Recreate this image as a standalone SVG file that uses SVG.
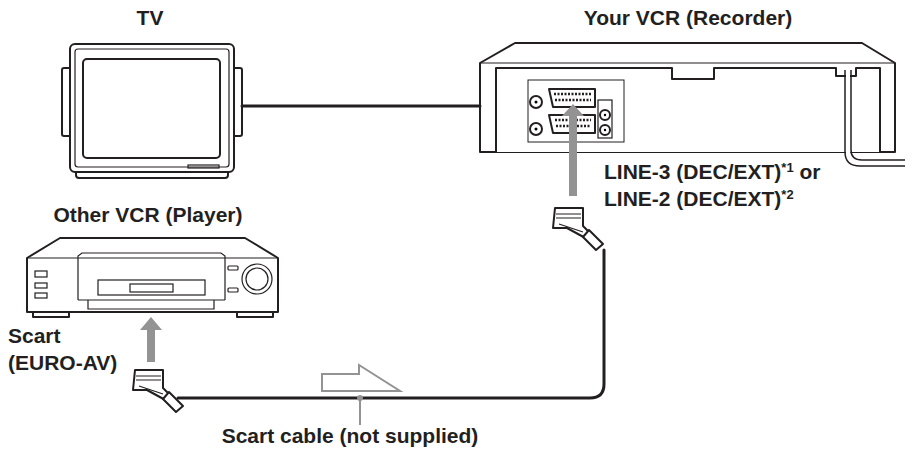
<svg xmlns="http://www.w3.org/2000/svg" width="915" height="460" viewBox="0 0 915 460">
<style>
.l{fill:#fff;stroke:#231f20;stroke-width:2;stroke-linejoin:round}
.t{fill:none;stroke:#231f20;stroke-width:1.2}
.c{fill:none;stroke:#231f20;stroke-width:3;stroke-linecap:round}
.g{fill:#939393}
text{font-family:"Liberation Sans",Arial,sans-serif;font-weight:bold;font-size:21px;fill:#231f20}
</style>
<rect width="915" height="460" fill="#fff"/>
<g id="tv">
<rect class="l" x="62" y="68" width="10" height="68" rx="2"/>
<rect class="l" x="232" y="68" width="10" height="68" rx="2"/>
<rect class="l" x="76" y="168" width="152" height="10" rx="3"/>
<rect class="l" x="70" y="44" width="164" height="128" rx="5"/>
<rect class="t" x="75" y="49" width="154" height="118" rx="3"/>
<rect class="l" x="83" y="59" width="137" height="99" rx="4" stroke-width="1.5"/>
<rect class="t" x="188" y="165" width="31" height="3"/>
</g>
<g id="recorder">
<path class="l" d="M480 152V63L515 43H862L895 63V152Z"/>
<path class="t" d="M480 63H895"/>
<path class="l" d="M496 152V68H672V79H714V68H836V76H856V68H880V152" stroke-width="1.5"/>
<rect x="528" y="80" width="96" height="62" fill="#fff" stroke="#231f20" stroke-width="1"/>
<path class="l" d="M549 89H595V107H553Z" stroke-width="1.5"/>
<path class="l" d="M549 115H595V133H553Z" stroke-width="1.5"/>
<path d="M554 94H591M555 100H591M555 120H591M556 126H591" stroke="#231f20" stroke-width="2.5" stroke-dasharray="2 1.5"/>
<circle class="l" cx="536" cy="102" r="6" stroke-width="1.5"/><circle cx="536" cy="102" r="1.5"/>
<circle class="l" cx="536" cy="129" r="6" stroke-width="1.5"/><circle cx="536" cy="129" r="1.5"/>
<rect class="t" x="598" y="100" width="14" height="38"/>
<circle class="l" cx="605" cy="115" r="5" stroke-width="1.5"/><circle cx="605" cy="115" r="1.2"/>
<circle class="l" cx="605" cy="130" r="5" stroke-width="1.5"/><circle cx="605" cy="130" r="1.2"/>
<g transform="translate(553,206)">
<path class="l" d="M2 2H30V20L40 30L36 34L14 22H0Z" stroke-width="1.5"/>
<path class="t" d="M3 8H28M3 12H28M6 18L30 26"/>
<path class="l" d="M36 24L50 38L43 44L30 31Z" stroke-width="1.5"/>
</g>
</g>
<g id="player">
<path class="l" d="M27 258L60 238H245L278 258V312H27Z"/>
<path class="t" d="M27 258H278"/>
<rect class="l" x="33" y="312" width="36" height="5" stroke-width="1.5"/>
<rect class="l" x="237" y="312" width="36" height="5" stroke-width="1.5"/>
<path class="t" d="M78 300V256L82 253H221L225 256V300M88 300V309H214V300M78 300H225"/>
<rect class="t" x="98" y="280" width="107" height="15"/>
<rect class="t" x="130" y="284" width="43" height="8"/>
<rect class="t" x="35" y="271" width="12" height="6"/>
<rect class="t" x="35" y="283" width="12" height="5"/>
<rect class="t" x="35" y="293" width="12" height="5"/>
<rect class="t" x="228" y="266" width="10" height="4" rx="1"/>
<rect class="t" x="228" y="288" width="10" height="4" rx="1"/>
<circle class="t" cx="257" cy="279" r="15" stroke-width="1.5"/>
<circle class="t" cx="257" cy="279" r="11"/>
<g transform="translate(133,368)">
<path class="l" d="M2 2H30V20L40 30L36 34L14 22H0Z" stroke-width="1.5"/>
<path class="t" d="M3 8H28M3 12H28M6 18L30 26"/>
<path class="l" d="M36 24L50 38L43 44L30 31Z" stroke-width="1.5"/>
</g>
</g>
<g id="connectors">
<path class="c" d="M242 106H480"/>
<path class="c" d="M178 398H590Q604 398 604 384V250"/>
<path d="M846 70V152Q846 165 860 165H905V161H862Q850 160 850 150V70Z" fill="#fff"/>
<path d="M845 70V152Q845 166 860 166H905M851 70V150Q851 160 862 160H905" fill="none" stroke="#231f20" stroke-width="1.5"/>
<path class="g" d="M569 196h8v-80h7l-11-12-11 12h7z"/>
<path class="g" d="M147 362h8v-32h7l-11-13-11 13h7z"/>
<path d="M322 374h37v-9l41 26h-78z" fill="#fff" stroke="#939393" stroke-width="2"/>
<path d="M360 398V425" stroke="#939393" stroke-width="2"/>
<circle cx="360" cy="398" r="3" fill="#939393"/>
</g>
<g id="labels">
<text x="150" y="25" text-anchor="middle">TV</text>
<text x="688" y="25" text-anchor="middle">Your VCR (Recorder)</text>
<text x="148" y="222" text-anchor="middle">Other VCR (Player)</text>
<text x="604" y="179">LINE-3 (DEC/EXT)<tspan font-size="13" dy="-7">*1</tspan><tspan dy="7"> or</tspan></text>
<text x="604" y="206">LINE-2 (DEC/EXT)<tspan font-size="13" dy="-7">*2</tspan></text>
<text x="8" y="343">Scart</text>
<text x="8" y="370">(EURO-AV)</text>
<text x="350" y="443" text-anchor="middle">Scart cable (not supplied)</text>
</g>
</svg>
